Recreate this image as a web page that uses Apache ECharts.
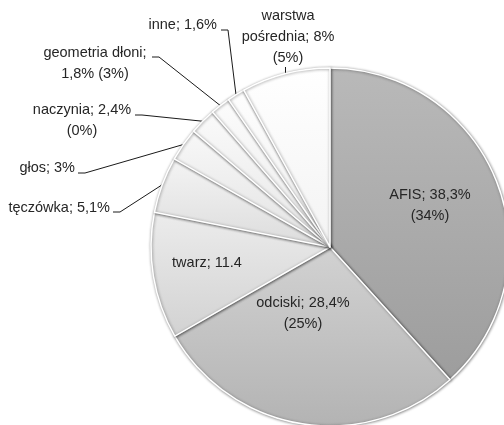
<!DOCTYPE html>
<html>
<head>
<meta charset="utf-8">
<script src="https://cdn.jsdelivr.net/npm/echarts@6/dist/echarts.min.js"></script>
<style>
  html, body { margin: 0; padding: 0; background: #ffffff; }
  #chart { width: 504px; height: 425px; }
</style>
</head>
<body>
<div id="chart"></div>
<script>
// Shares of biometric technologies (current share, earlier share in brackets)
const names = ['AFIS', 'odciski', 'twarz', 'tęczówka', 'głos', 'naczynia', 'geometria dłoni', 'inne', 'warstwa pośrednia'];
const values = [38.3, 28.4, 11.4, 5.1, 3, 2.4, 1.8, 1.6, 8];
const labelTexts = [
  'AFIS; 38,3%\n(34%)',
  'odciski; 28,4%\n(25%)',
  'twarz; 11.4',
  'tęczówka; 5,1%',
  'głos; 3%',
  'naczynia; 2,4%\n(0%)',
  'geometria dłoni;\n1,8% (3%)',
  'inne; 1,6%',
  'warstwa\npośrednia; 8%\n(5%)'
];

// Slice fills: light at the top, darker toward the bottom
const fills = [
  ['#b9b9b9', '#9d9d9d'],
  ['#d2d2d2', '#b3b3b3'],
  ['#ececec', '#d2d2d2'],
  ['#f4f4f4', '#dcdcdc'],
  ['#f8f8f8', '#e2e2e2'],
  ['#fafafa', '#e6e6e6'],
  ['#fcfcfc', '#eaeaea'],
  ['#fefefe', '#eeeeee'],
  ['#ffffff', '#f3f3f3']
];

// Label placement: text anchor (x, y, align) and where the leader line meets it
const spots = [
  { x: 430, y: 205, align: 'center', inside: true },
  { x: 303, y: 313, align: 'center', inside: true },
  { x: 207, y: 263, align: 'center', inside: true },
  { x: 110, y: 208, align: 'right', lx: 113, ly: 212 },
  { x: 75, y: 168, align: 'right', lx: 78, ly: 173 },
  { x: 82, y: 120, align: 'center', lx: 135, ly: 115 },
  { x: 95, y: 63, align: 'center', lx: 152, ly: 57 },
  { x: 217, y: 25, align: 'right', lx: 221, ly: 30 },
  { x: 288, y: 37, align: 'center', tick: 67 }
];

const chart = echarts.init(document.getElementById('chart'), null, { renderer: 'canvas' });

const data = names.map(function (n, i) {
  const s = spots[i];
  return {
    name: n,
    value: values[i],
    itemStyle: {
      color: new echarts.graphic.LinearGradient(0, 0, 0, 1, [
        { offset: 0, color: fills[i][0] },
        { offset: 1, color: fills[i][1] }
      ])
    },
    label: { position: s.inside ? 'inside' : 'outside' },
    labelLine: { show: !s.inside }
  };
});

chart.setOption({
  animation: false,
  backgroundColor: '#ffffff',
  series: [{
    type: 'pie',
    center: [330, 247],
    radius: [0, 179],
    startAngle: 90,
    clockwise: true,
    avoidLabelOverlap: false,
    data: data,
    itemStyle: {
      borderColor: '#ffffff',
      borderWidth: 1.5,
      shadowColor: 'rgba(0,0,0,0.45)',
      shadowBlur: 3,
      shadowOffsetX: 0.5,
      shadowOffsetY: 0.5
    },
    label: {
      formatter: function (p) { return labelTexts[p.dataIndex]; },
      fontFamily: 'Liberation Sans, Arial, sans-serif',
      fontSize: 14.5,
      lineHeight: 21,
      color: '#262626'
    },
    labelLine: {
      show: true,
      lineStyle: { color: '#1a1a1a', width: 1 }
    },
    labelLayout: function (p) {
      const s = spots[p.dataIndex];
      const out = { x: s.x, y: s.y, align: s.align, verticalAlign: 'middle' };
      if (!s.inside && p.labelLinePoints) {
        const edge = p.labelLinePoints[0];
        if (s.tick !== undefined) {
          out.labelLinePoints = [edge, [edge[0], s.tick]];
        } else {
          out.labelLinePoints = [edge, [s.lx + 7, s.ly], [s.lx, s.ly]];
        }
      }
      return out;
    }
  }]
});
</script>
</body>
</html>
